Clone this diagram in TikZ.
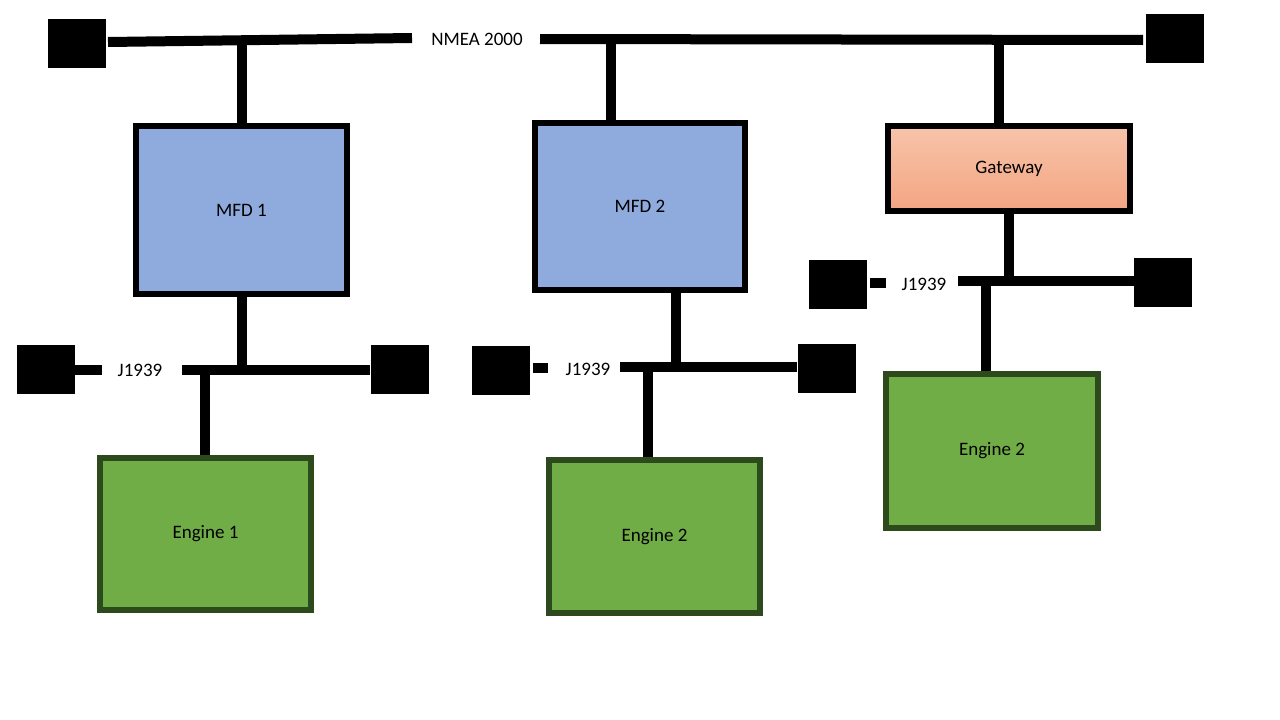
\documentclass[tikz,border=0pt]{standalone}
\usepackage{fontspec}
\setmainfont{Carlito}
\usetikzlibrary{positioning}
\definecolor{mfdblue}{HTML}{8FAADC}
\definecolor{enggreen}{HTML}{70AD47}
\definecolor{engborder}{HTML}{2C4A1C}
\definecolor{gwtop}{HTML}{F7C4AA}
\definecolor{gwbot}{HTML}{F4A582}
\newcommand{\busfont}{\fontsize{19}{22}\selectfont}

\begin{document}
\begin{tikzpicture}[x=1pt,y=-1pt,
		bus/.style={line width=10pt},
		term/.style={fill=black, minimum width=58pt, minimum height=49pt, inner sep=0pt},
		mfd/.style={draw=black, line width=6pt, fill=mfdblue, inner sep=0pt, font=\busfont},
		engine/.style={draw=engborder, line width=6pt, fill=enggreen, inner sep=0pt, font=\busfont},
		gateway/.style={draw=black, line width=6pt, top color=gwtop, bottom color=gwbot, inner sep=0pt, font=\busfont},
		buslabel/.style={font=\busfont, inner sep=0pt}]
		\useasboundingbox (0,0) rectangle (1280,720);
		% NMEA 2000 backbone
		\node[term] (nL) at (77,43) {};
		\node[term] (nR) at (1175,38) {};
		\node[buslabel] (nmea) at (477,39) {NMEA 2000};
		\coordinate (n1) at (242,41);
		\coordinate (n2) at (611,39);
		\coordinate (n3) at (999,40);
		\draw[bus] (108,42) -- (412,38);
		\draw[bus] (540,39) -- (1143,40);
		% devices
		\node[mfd, minimum width=211pt, minimum height=168pt] (mfd1) at (241.5,210) {MFD 1};
		\node[mfd, minimum width=210pt, minimum height=167pt] (mfd2) at (640,206.5) {MFD 2};
		\node[gateway, minimum width=242pt, minimum height=85pt] (gw) at (1009,168.5) {Gateway};
		\node[engine, minimum width=211pt, minimum height=152pt] (eng1) at (205.5,534) {Engine 1};
		\node[engine, minimum width=211pt, minimum height=153pt] (eng2) at (654.5,536.5) {Engine 2};
		\node[engine, minimum width=212pt, minimum height=154pt] (eng3) at (992,451) {Engine 2};
		\draw[bus] (n1) -- (mfd1.north -| n1);
		\draw[bus] (n2) -- (mfd2.north -| n2);
		\draw[bus] (n3) -- (gw.north -| n3);
		% J1939 bus 1
		\node[term] (aL) at (45.5,369.5) {};
		\node[term] (aR) at (399.5,369.5) {};
		\node[buslabel] (j1) at (140,370) {J1939};
		\coordinate (a1) at (242,370);
		\coordinate (a2) at (205,370);
		\draw[bus] (aL.east |- a1) -- ++(27,0);
		\draw[bus] (182,370) -- (aR.west |- a1);
		\draw[bus] (mfd1.south -| a1) -- (a1);
		\draw[bus] (a2) -- (eng1.north -| a2);
		% J1939 bus 2
		\node[term] (bL) at (501,370) {};
		\node[term] (bR) at (826.5,368.5) {};
		\node[buslabel] (j2) at (588,369) {J1939};
		\coordinate (b1) at (676,367);
		\coordinate (b2) at (648,367);
		\draw[bus] (533,368) -- (548,368);
		\draw[bus] (620,367) -- (bR.west |- b1);
		\draw[bus] (mfd2.south -| b1) -- (b1);
		\draw[bus] (b2) -- (eng2.north -| b2);
		% J1939 bus 3
		\node[term] (cL) at (838,284.5) {};
		\node[term] (cR) at (1163,282.5) {};
		\node[buslabel] (j3) at (924,284) {J1939};
		\coordinate (c1) at (1009,281);
		\coordinate (c2) at (986,281);
		\draw[bus] (870,283) -- (886,283);
		\draw[bus] (958,281) -- (cR.west |- c1);
		\draw[bus] (gw.south -| c1) -- (c1);
		\draw[bus] (c2) -- (eng3.north -| c2);
\end{tikzpicture}
\end{document}
